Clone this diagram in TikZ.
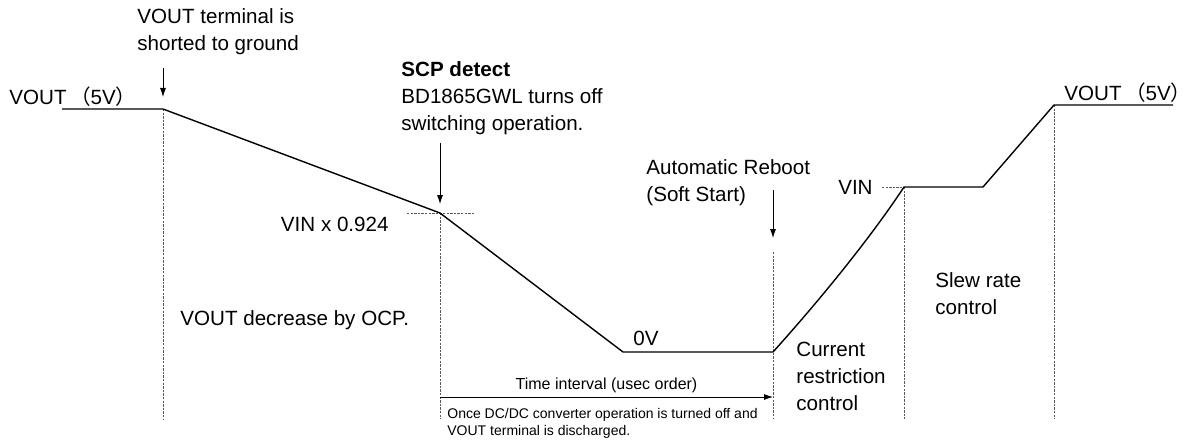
\documentclass[tikz,border=0pt]{standalone}
\usepackage{fontspec}
\setmainfont{Liberation Sans}
\newfontfamily\jpfont{Noto Sans CJK JP}
\usetikzlibrary{arrows.meta}

\tikzset{
 wave/.style={black, line width=0.7pt},
 guide/.style={gray!70!black, line width=0.5pt, dash pattern=on 1.2pt off 0.6pt},
 lbl/.style={font=\fontsize{10.3}{13.5}\selectfont, inner sep=0, align=left},
 small/.style={font=\fontsize{7}{8.5}\selectfont, inner sep=0, align=left},
}
\newcommand{\voutfive}{VOUT\,{\jpfont （}5V{\jpfont ）}}

\begin{document}
\begin{tikzpicture}[x=0.5pt, y=-0.5pt, >={Latex[length=4.5pt,width=3pt]}]
\useasboundingbox (0,0) rectangle (1197,444);
% corners of the waveform
\coordinate (start) at (62,109);
\coordinate (short) at (163,109);
\coordinate (detect) at (440,213);
\coordinate (zeroa) at (623,352);
\coordinate (zerob) at (773,352);
\coordinate (vin) at (904,187);
\coordinate (vinb) at (983,187);
\coordinate (vout) at (1054,105);
\coordinate (end) at (1173,105);
\coordinate (floor) at (0,419);
\coordinate (ti) at (0,397);
% arrow ends and guide ends
\coordinate (shorttop) at (163,68);
\coordinate (shorttip) at (163,97);
\coordinate (detecttop) at (440,143);
\coordinate (detecttip) at (440,204);
\coordinate (reboottop) at (773,190);
\coordinate (reboottip) at (773,238);
\coordinate (rebootdash) at (773,252);
\coordinate (detl) at (407,213);
\coordinate (detr) at (475,213);
\coordinate (vinl) at (882,187);

% guide lines
\draw[guide] (short) -- (short |- floor);
\draw[guide] (detect) -- (detect |- floor);
\draw[guide] (detl) -- (detr);
\draw[guide] (rebootdash) -- (zerob |- floor);
\draw[guide] (vin) -- (vin |- floor);
\draw[guide] (vinl) -- (vin);
\draw[guide] (vout) -- (vout |- floor);

% waveform
\draw[wave] (start) -- (short) -- (detect) -- (zeroa) -- (zerob)
  .. controls (818,302) and (869,240) .. (vin) -- (vinb) -- (vout) -- (end);

% texts
\node[lbl, anchor=west] (shorttxt) at (137,32) {VOUT terminal is\\shorted to ground};
\node[lbl, anchor=west] (voutl) at (9,97) {\voutfive};
\node[lbl, anchor=west] (scp) at (401,98) {\textbf{SCP detect}\\BD1865GWL turns off\\switching operation.};
\node[lbl, anchor=east] (vinx) at (389,224) {VIN x 0.924};
\node[lbl, anchor=west] (ocp) at (180,320) {VOUT decrease by OCP.};
\node[lbl] (zerov) at (646,338) {0V};
\node[lbl, anchor=west] (reboot) at (646,183) {Automatic Reboot\\(Soft Start)};
\node[lbl, anchor=east] (vintxt) at (873,187) {VIN};
\node[lbl, anchor=west] (curr) at (796,376) {Current\\restriction\\control};
\node[lbl, anchor=west] (slew) at (935,294) {Slew rate\\control};
\node[lbl, anchor=west] (voutr) at (1064,93) {\voutfive};
\node[small, anchor=west] (once) at (447,423) {Once DC/DC converter operation is turned off and\\VOUT terminal is discharged.};

% arrows
\draw[->] (shorttop) -- (shorttip);
\draw[->] (detecttop) -- (detecttip);
\draw[->] (reboottop) -- (reboottip);
\draw[->] (detect |- ti) -- (zerob |- ti)
  node[midway, above=2pt, font=\fontsize{8}{9}\selectfont, inner sep=0] (timetxt) {Time interval (usec order)};
\end{tikzpicture}
\end{document}
